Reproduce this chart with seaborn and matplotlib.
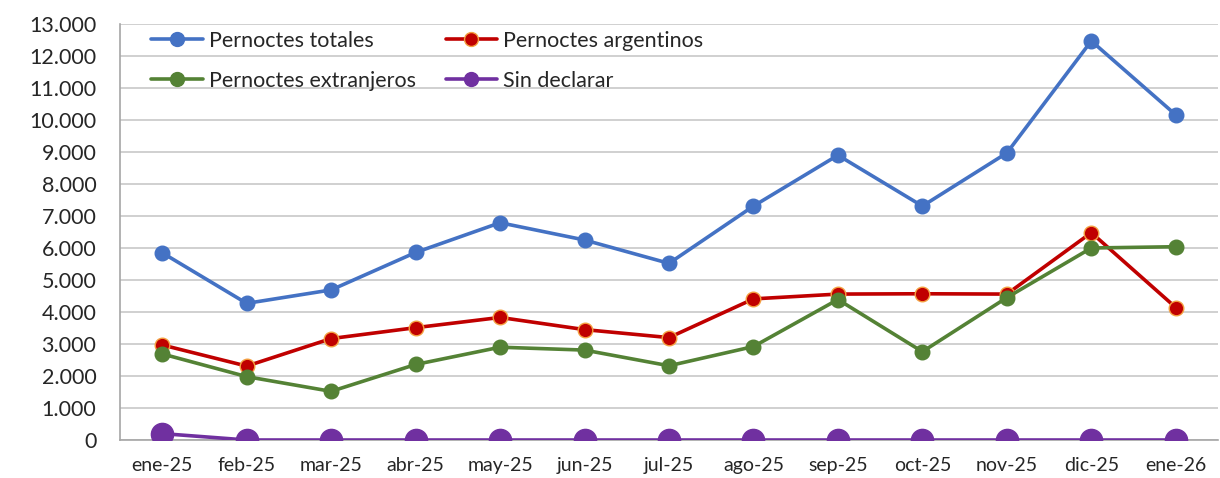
import matplotlib
matplotlib.use("Agg")
import matplotlib.pyplot as plt
import matplotlib.ticker as mticker
from matplotlib.lines import Line2D
import seaborn as sns
import pandas as pd
import numpy as np

months = ["ene-25", "feb-25", "mar-25", "abr-25", "may-25", "jun-25", "jul-25",
          "ago-25", "sep-25", "oct-25", "nov-25", "dic-25", "ene-26"]
totales = [5850, 4270, 4690, 5860, 6790, 6250, 5520, 7310, 8900, 7310, 8970, 12470, 10160]
argentinos = [2970, 2310, 3170, 3510, 3830, 3450, 3200, 4410, 4560, 4570, 4560, 6480, 4140]
extranjeros = [2690, 1980, 1520, 2360, 2900, 2810, 2320, 2920, 4390, 2760, 4450, 6000, 6040]
sin_declarar = [200, 0, 0, 0, 0, 0, 0, 0, 0, 0, 0, 0, 0]
y_ticks = list(range(0, 13001, 1000))

sns.set_theme(style="white")
plt.rcParams["font.family"] = ["Lato", "DejaVu Sans"]

fig = plt.figure(figsize=(12.2, 4.78), dpi=100)
ax = fig.add_axes([120/1220, 38/478, 1098/1220, 416/478])

x = np.arange(len(months))
series = [
    ("Pernoctes totales", totales, "#4472C4", "#4472C4", 10.5),
    ("Pernoctes argentinos", argentinos, "#C00000", "#F4A040", 10.5),
    ("Pernoctes extranjeros", extranjeros, "#548235", "#548235", 10.5),
    ("Sin declarar", sin_declarar, "#7030A0", "#7030A0", 16),
]
handles = {}
for name, vals, col, edge, ms in series:
    df = pd.DataFrame({"x": x, "y": vals})
    sns.lineplot(data=df, x="x", y="y", ax=ax, color=col, linewidth=2.6,
                 marker="o", markersize=ms, markeredgecolor=edge,
                 markeredgewidth=1.0, legend=False, zorder=3)
    handles[name] = Line2D([], [], color=col, linewidth=2.6, marker="o", markersize=10,
                           markeredgecolor=edge, markeredgewidth=1.0)

ax.set_xlim(-0.5, len(months) - 0.5)
ax.set_ylim(0, 13000)
ax.set_yticks(y_ticks)
ax.yaxis.set_major_formatter(mticker.FuncFormatter(lambda v, p: f"{int(v):,}".replace(",", ".")))
ax.set_xticks(x)
ax.set_xticklabels(months, fontsize=14)
ax.set_xticks(np.arange(-0.5, len(months), 1), minor=True)
ax.tick_params(axis="x", which="major", length=0, pad=12)
ax.tick_params(axis="x", which="minor", length=5, direction="out", color="#A6A6A6", width=1)
ax.tick_params(axis="y", length=0, labelsize=15.5, pad=17)
ax.grid(axis="y", color="#C8C8C8", linewidth=1.2)
ax.set_axisbelow(True)
for s in ["top", "right"]:
    ax.spines[s].set_visible(False)
for s in ["left", "bottom"]:
    ax.spines[s].set_color("#A6A6A6")
    ax.spines[s].set_linewidth(1.2)
ax.set_xlabel("")
ax.set_ylabel("")

order = ["Pernoctes totales", "Pernoctes extranjeros", "Pernoctes argentinos", "Sin declarar"]
leg = ax.legend([handles[n] for n in order], order, ncol=2, loc="upper left",
                bbox_to_anchor=(0.011, 1.03), frameon=False,
                fontsize=15.5, handlelength=2.4, handletextpad=0.25, columnspacing=1.4,
                labelspacing=0.92)

fig.savefig("out.png", dpi=100, facecolor="white")
